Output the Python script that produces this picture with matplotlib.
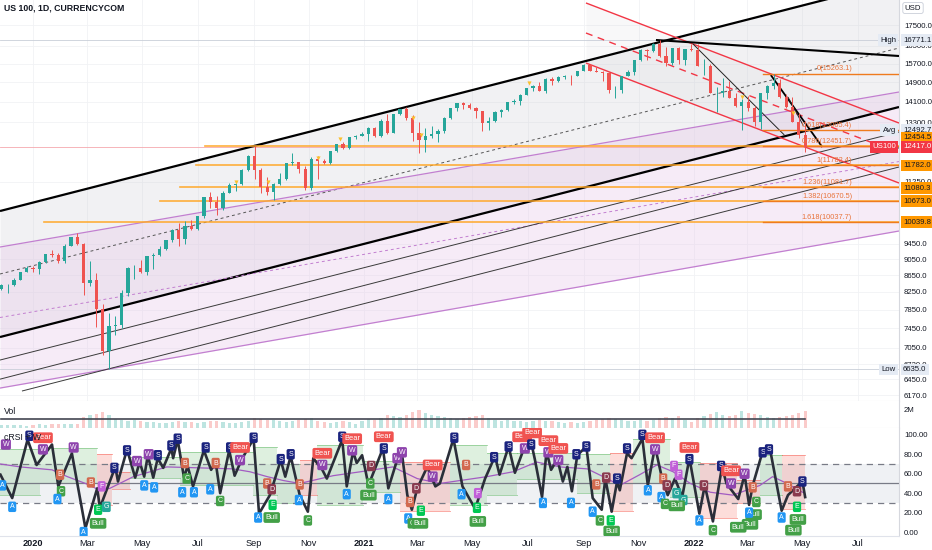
import numpy as np
import matplotlib.pyplot as plt
from matplotlib.ticker import NullLocator, NullFormatter

W, H = 932, 550
plt.rcParams['font.family'] = ['Liberation Sans', 'DejaVu Sans']

# ---- weekly bars, dated by the Friday of each week ----
week_end = np.arange(np.datetime64('2019-11-29'), np.datetime64('2022-05-07'), np.timedelta64(7, 'D'))
first_open = 8320
close = [8403, 8425, 8542, 8726, 8834,
         8793, 8975, 9174, 9148, 8991, 9401, 9623, 9446, 8461, 8530, 7875, 6994, 7502,
         7528, 8230, 8832, 8834, 8718, 9121, 9152, 9325, 9555, 9824, 9588, 9946, 9849,
         10208, 10767, 10643, 10461, 10905, 11139, 11186, 11627, 12111, 11622, 11087,
         10939, 11187, 11330, 11853, 11894, 11666, 11052, 12000, 11937, 11855, 12258,
         12528, 12376, 12756, 12804,
         12888, 13105, 12804, 13367, 12925, 13611, 13808, 13475, 12909, 12669, 12819,
         12879, 12977, 13480, 13845, 14041, 13951, 13860, 13720, 13296, 13338, 13687,
         13774, 14069, 14141, 14360, 14640, 14749, 14543, 15048, 14959, 15122, 15155,
         15152, 15374, 15653, 15374, 15334, 15306, 14566, 14579, 15146, 15335, 15850,
         16300, 16269, 16574, 16026, 15712, 16410, 15838, 16354, 16320,
         15591, 15612, 14438, 14441, 14516, 14254, 13935, 14103, 13838, 13300, 14430,
         14717, 14862, 14270, 13894, 13323, 12855, 12417]
high = [8440, 8440, 8590, 8740, 8870,
        8870, 8990, 9180, 9290, 9220, 9450, 9630, 9736, 9480, 9000, 8700, 7980, 7770,
        7700, 8300, 8850, 8900, 9030, 9130, 9200, 9400, 9560, 9850, 10030, 10080, 10100,
        10220, 10780, 10940, 10800, 10950, 11200, 11220, 11660, 12130, 12439, 11700,
        11400, 11200, 11520, 11880, 12200, 11900, 11780, 12050, 12100, 12000, 12270,
        12530, 12600, 12770, 12840,
        12950, 13120, 13140, 13420, 13630, 13620, 13830, 13880, 13600, 13300, 13100,
        13180, 13040, 13490, 13850, 14060, 14090, 14060, 13890, 13730, 13500, 13720,
        13800, 14080, 14220, 14400, 14650, 14780, 14900, 15060, 15110, 15140, 15200,
        15220, 15390, 15670, 15700, 15560, 15390, 15350, 14720, 15160, 15420, 15860,
        16360, 16370, 16620, 16771, 16460, 16420, 16440, 16370, 16580,
        16590, 15920, 15700, 14700, 15090, 14950, 14470, 14210, 14340, 13950, 14440,
        14800, 15263, 15040, 14400, 14300, 13650, 13360]
low = [8300, 8220, 8380, 8530, 8720,
       8730, 8680, 8940, 9100, 8960, 8960, 9380, 9420, 8190, 8390, 7470, 6900, 6635,
       7300, 7450, 8150, 8560, 8700, 8650, 8800, 9120, 9290, 9500, 9400, 9450, 9830,
       9830, 10150, 10440, 10260, 10400, 10900, 10960, 11150, 11600, 11350, 10910,
       10850, 10680, 11150, 11300, 11800, 11540, 10990, 11000, 11350, 11820, 11840,
       12230, 12330, 12350, 12690,
       12800, 12620, 12780, 12780, 12890, 12900, 13580, 13400, 12640, 12200, 12240,
       12740, 12600, 12920, 13420, 13740, 13810, 13830, 13470, 12990, 13010, 13300,
       13500, 13720, 13990, 13980, 14350, 14520, 14520, 14440, 14800, 14900, 15050,
       14800, 15140, 15360, 15370, 15310, 14930, 14450, 14250, 14450, 15140, 15220,
       15800, 15870, 16230, 16000, 15580, 15650, 15670, 15620, 16280,
       15580, 15220, 14430, 13710, 14300, 14240, 13880, 13020, 13720, 13160, 13040,
       14220, 14600, 14250, 13850, 13300, 12720, 12230]
vol_m = [0.3, 0.3, 0.3, 0.3, 0.2,
         0.3, 0.4, 0.3, 0.4, 0.5, 0.4, 0.4, 0.5, 1.2, 1.5, 1.6, 1.8, 1.4,
         1.0, 0.9, 0.8, 0.9, 0.8, 0.7, 0.7, 0.6, 0.6, 0.7, 0.8, 0.7, 0.7,
         0.6, 0.7, 0.8, 0.8, 0.7, 0.6, 0.6, 0.7, 0.8, 1.1, 1.0, 0.9, 0.9,
         0.8, 0.7, 0.8, 0.9, 1.0, 1.1, 0.8, 0.7, 0.6, 0.7, 0.8, 0.7, 0.5,
         0.8, 1.0, 0.9, 1.1, 1.4, 1.3, 1.2, 1.5, 1.8, 2.0, 1.7, 1.5, 1.3,
         1.2, 1.1, 1.0, 1.1, 1.2, 1.3, 1.4, 1.1, 0.9, 0.8, 0.9, 0.8, 0.8,
         0.7, 0.8, 0.9, 0.8, 0.8, 0.7, 0.6, 0.7, 0.6, 0.7, 0.8, 0.9, 1.0,
         1.1, 1.0, 0.9, 0.8, 0.8, 0.9, 0.8, 0.9, 1.1, 1.2, 1.1, 1.3, 0.9, 0.7,
         1.1, 1.3, 1.6, 1.8, 1.4, 1.3, 1.5, 1.9, 1.7, 1.6, 1.4, 1.2,
         1.1, 1.2, 1.3, 1.5, 1.7, 1.9]

# ---- drawings on the price pane: (days from 2020-01-01, price) ----
trend = {
    'chan_top':  ([-36.5, 957.8], [10363, 19821]),
    'chan_bot':  ([-36.5, 957.8], [7267, 13891]),
    'chan_mid':  ([-36.5, 957.8], [8679, 16402]),
    'purp_top':  ([-36.5, 957.8], [9364, 14490]),
    'purp_bot':  ([-36.5, 957.8], [6294, 9796]),
    'purp_mid':  ([-36.5, 957.8], [7678, 11913]),
    'fork_1':    ([-36.5, 957.8], [6811, 12948]),
    'fork_2':    ([-36.5, 957.8], [6454, 12382]),
    'fork_3':    ([-12.2, 957.8], [6242, 11731]),
    'red_top':   ([611.6, 957.8], [18620, 13278]),
    'red_mid':   ([611.6, 957.8], [17110, 12202]),
    'red_bot':   ([611.6, 957.8], [15724, 11214]),
    'high_line': ([689, 957.8], [16776, 16037]),
    'peak_fan':  ([730, 831], [16588, 12837]),
    'mar_fan':   ([816, 873], [15201, 12410]),
    'mar_fan2':  ([835, 852], [14287, 13183]),
}
fib_txt = ['0(15263.1)', '0.618(13005.4)', '0.786(12451.7)', '1(11782.4)',
           '1.236(11081.7)', '1.382(10670.5)', '1.618(10037.7)']
fib_price = [15263.1, 13005.4, 12451.7, 11782.4, 11081.7, 10670.5, 10037.7]
ray_price = [12451.7, 11782.4, 11081.7, 10670.5, 10037.7]
ray_start = [190, 180, 163, 140, 12]
star_day = [224, 260, 315, 340, 420, 429, 549, 784, 841]
star_price = [11245, 11245, 12032, 12693, 13466, 12837, 14862, 14287, 13658]

price_ticks = [17500, 16500, 15700, 14900, 14100, 13300, 11250, 9450, 9050, 8650,
               8250, 7850, 7450, 7050, 6730, 6450, 6170]
tag_txt = ['16771.1', '12492.7', '12454.5', '12417.0', '11782.0', '11080.3', '10673.0', '10039.8', '6635.0']
tag_y = [16776, 13010, 12735, 12417, 11782, 11057, 10660, 10040, 6635]
tag_kind = ['info', 'info', 'fib', 'last', 'fib', 'fib', 'fib', 'fib', 'info']
side_txt = ['High', 'Avg', 'US100', 'Low']
side_y = [16776, 13010, 12417, 6635]
side_kind = ['info', 'info', 'last', 'info']

# ---- cRSI pane ----
osc_day = [-36, -23, -6, 4, 21, 28, 43, 58, 71, 74, 91, 94, 104, 113, 118, 123, 127, 133, 138, 144,
           153, 155, 160, 167, 171, 177, 189, 197, 202, 207, 217, 223, 231, 244, 250, 262, 274, 279, 285, 295,
           304, 310, 320, 325, 342, 347, 354, 358, 364, 368, 371, 387, 393, 404, 408, 414, 419, 425, 436, 445,
           450, 465, 475, 489, 500, 511, 516, 526, 533, 543, 551, 555, 563, 568, 573, 580, 586, 591, 596, 602,
           612, 619, 629, 633, 640, 646, 649, 657, 662, 674, 680, 688, 696, 702, 710, 718, 726, 737, 743, 752,
           762, 767, 780, 787, 792, 796, 807, 815, 828, 835, 845, 851, 854]
osc_val = [59, 35, 95, 69, 90, 47, 81, 4, 45, 25, 67, 52, 85, 56, 72, 57, 79, 56, 76, 66,
           86, 76, 95, 56, 68, 47, 84, 64, 72, 40, 84, 58, 75, 96, 19, 38, 74, 57, 78, 38,
           21, 76, 64, 55, 95, 47, 83, 71, 79, 62, 48, 86, 45, 78, 81, 38, 23, 45, 67, 47,
           50, 96, 47, 24, 55, 78, 59, 88, 61, 86, 92, 75, 36, 83, 64, 75, 52, 67, 42, 79,
           88, 35, 23, 55, 21, 52, 43, 81, 76, 96, 48, 88, 54, 38, 55, 36, 76, 19, 48, 11,
           67, 50, 34, 59, 28, 48, 83, 86, 22, 38, 47, 52, 36]
sig_day = [-36, -14, 21, 38, 58, 74, 85, 111, 148, 185, 221, 240, 259, 277, 295, 332, 362, 398, 425,
           450, 502, 531, 557, 583, 613, 635, 649, 671, 690, 708, 727, 749, 774, 804, 818, 834, 851]
sig_val = [70, 67, 64, 57, 50, 43, 45, 57, 67, 66, 65, 62, 57, 53, 50, 58, 62, 67, 55,
           50, 57, 62, 72, 67, 65, 55, 48, 59, 69, 62, 50, 41, 38, 48, 57, 50, 41]
band_d0 = [-36, 8, 71, 87, 107, 163, 243, 270, 295, 314, 365, 406, 461, 502, 535, 602, 638, 664, 705, 738, 779, 804, 828]
band_d1 = [8, 71, 87, 107, 163, 243, 270, 295, 314, 365, 406, 461, 502, 535, 602, 638, 664, 705, 738, 779, 804, 828, 854]
band_top = [85, 86, 80, 62, 77, 82, 87, 70, 74, 90, 73, 72, 90, 81, 81, 80, 81, 96, 72, 71, 54, 79, 79]
band_bot = [38, 50, 28, 44, 56, 48, 38, 30, 38, 28, 41, 22, 28, 38, 55, 40, 22, 50, 36, 14, 30, 38, 24]
band_bull = [1, 1, 0, 0, 1, 1, 1, 1, 0, 1, 1, 0, 1, 1, 1, 1, 0, 1, 1, 0, 0, 1, 0]

mark_day = [-30, -34, -23, -4, 11, 11, 45, 30, 31, 27, 56, 64, 76, 72, 81, 72, 90, 104, 115, 128,
            138, 153, 160, 123, 134, 168, 170, 165, 178, 191, 202, 196, 207, 218, 229, 229, 244, 259, 264, 265,
            249, 264, 274, 285, 295, 294, 304,
            320, 320, 342, 353, 353, 347, 388, 388, 374, 373, 371, 393, 403, 408, 424, 417, 415, 419, 429, 428,
            442, 442, 466, 479, 474, 492, 491, 492, 510, 526, 541, 552, 544, 551, 570, 570, 581, 581, 564, 595,
            601, 612, 623, 634, 619, 627,
            639, 640, 646, 657, 674, 688, 688, 680, 697, 701, 709, 714, 695, 699, 712, 719, 712, 726, 726, 742,
            737, 752, 761, 772, 772, 787, 796, 800, 797, 793, 780, 792, 807, 814, 828, 835, 845, 845, 846, 841, 851]
mark_val = [90, 48, 26, 99, 97, 85, 87, 59, 42, 34, 0, 51, 47, 23, 26, 9, 66, 84, 73, 80,
            79, 89, 96, 48, 46, 71, 55, 41, 41, 87, 71, 44, 32, 87, 87, 74, 97, 50, 44, 28,
            15, 15, 75, 80, 49, 33, 12,
            81, 69, 98, 96, 84, 39, 98, 86, 68, 50, 38, 34, 76, 82, 45, 31, 14, 9, 22, 9,
            69, 57, 97, 69, 39, 40, 25, 11, 77, 88, 98, 102, 86, 90, 94, 82, 86, 74, 30, 30,
            80, 88, 49, 56, 21, 12,
            12, 1, 55, 86, 100, 97, 85, 43, 55, 48, 68, 59, 36, 29, 40, 33, 27, 87, 75, 48,
            12, 2, 68, 63, 50, 60, 46, 31, 18, 8, 5, 20, 82, 85, 15, 47, 42, 26, 13, 2, 52]
mark_txt = ['W', 'A', 'A', 'S', 'Bear', 'W', 'W', 'B', 'C', 'A', 'A', 'B', 'F', 'E', 'G', 'Bull', 'S', 'S', 'W', 'W',
            'S', 'S', 'S', 'A', 'A', 'B', 'C', 'A', 'A', 'S', 'B', 'A', 'C', 'S', 'Bear', 'W', 'S', 'B', 'D', 'E',
            'A', 'Bull', 'S', 'S', 'B', 'A', 'C',
            'Bear', 'W', 'S', 'Bear', 'W', 'A', 'Bear', 'S', 'D', 'C', 'Bull', 'A', 'W', 'W', 'D', 'B', 'A', 'C', 'E', 'Bull',
            'Bear', 'W', 'S', 'B', 'A', 'F', 'E', 'Bull', 'S', 'S', 'Bear', 'Bear', 'W', 'S', 'Bear', 'W', 'Bear', 'W', 'A', 'A',
            'S', 'S', 'B', 'D', 'A', 'C',
            'E', 'Bull', 'S', 'S', 'S', 'Bear', 'W', 'A', 'B', 'D', 'F', 'F', 'A', 'C', 'G', 'G', 'Bull', 'Bear', 'S', 'D',
            'A', 'C', 'S', 'Bear', 'W', 'W', 'B', 'C', 'Bull', 'Bull', 'Bull', 'A', 'S', 'S', 'A', 'B', 'D', 'E', 'Bull', 'Bull', 'S']
mark_color = {'A': '#2196f3', 'B': '#d2694f', 'C': '#43a047', 'D': '#8a3a4e', 'E': '#00c853',
              'F': '#c15fd8', 'G': '#26a69a', 'S': '#1a237e', 'W': '#8e44ad',
              'Bear': '#f05350', 'Bull': '#43a047'}

tick_days = [0, 60, 121, 182, 244, 305, 366, 425, 486, 547, 609, 670, 731, 790, 851, 912]
tick_text = ['2020', 'Mar', 'May', 'Jul', 'Sep', 'Nov', '2021', 'Mar', 'May', 'Jul', 'Sep', 'Nov',
             '2022', 'Mar', 'May', 'Jul']

XMIN, XMAX = -36.5, 957.8
TXT = '#131722'
GRID = '#f1f2f5'
AXFS = 5.6

fig = plt.figure(figsize=(W / 100, H / 100), dpi=100)


def pane(top, bottom):
    a = fig.add_axes([0, 1 - bottom / H, 899 / W, (bottom - top) / H])
    for s in ('top', 'left'):
        a.spines[s].set_visible(False)
    a.spines['right'].set_color('#d6d8de')
    a.spines['bottom'].set_color('#e0e3eb')
    a.spines['right'].set_linewidth(0.8)
    a.spines['bottom'].set_linewidth(0.8)
    a.yaxis.tick_right()
    a.tick_params(axis='y', length=0, pad=3.5, labelsize=AXFS, colors=TXT)
    a.tick_params(axis='x', length=0, labelbottom=False)
    a.set_xlim(XMIN, XMAX)
    a.set_xticks(tick_days)
    a.grid(True, color=GRID, lw=0.6)
    a.set_axisbelow(True)
    return a


ax = pane(0, 401)
axv = pane(401, 428)
axo = pane(428, 536)

# ---------------- price pane ----------------
ax.set_yscale('log')
ax.set_ylim(6069, 18777)
ax.yaxis.set_minor_locator(NullLocator())
ax.yaxis.set_minor_formatter(NullFormatter())
ax.set_yticks(price_ticks)
ax.set_yticklabels(['%.1f' % v for v in price_ticks])

xs, top_y = trend['chan_top']
ax.fill_between(xs, top_y, trend['chan_bot'][1], color='#c8cad0', alpha=0.25, lw=0, zorder=1)
ax.fill_between(xs, trend['purp_top'][1], trend['purp_bot'][1], color='#e6c8ea', alpha=0.35, lw=0, zorder=1)
ax.fill_between(trend['red_top'][0], trend['red_top'][1], trend['red_bot'][1], color='#d0d2d8', alpha=0.15, lw=0, zorder=1)

styles = {
    'chan_top': dict(color='black', lw=1.6),
    'chan_bot': dict(color='black', lw=1.6),
    'chan_mid': dict(color='#555555', lw=0.7, ls=(0, (3, 3))),
    'purp_top': dict(color='#c27fd0', lw=0.9),
    'purp_bot': dict(color='#c27fd0', lw=0.9),
    'purp_mid': dict(color='#c27fd0', lw=0.7, ls=(0, (3, 3))),
    'fork_1': dict(color='#3a3a3a', lw=0.7),
    'fork_2': dict(color='#3a3a3a', lw=0.7),
    'fork_3': dict(color='#3a3a3a', lw=0.7),
    'red_top': dict(color='#f23645', lw=1.0),
    'red_mid': dict(color='#f23645', lw=1.0, ls=(0, (5, 4))),
    'red_bot': dict(color='#f23645', lw=1.0),
    'high_line': dict(color='black', lw=1.5),
    'peak_fan': dict(color='#222222', lw=0.7),
    'mar_fan': dict(color='black', lw=1.3),
    'mar_fan2': dict(color='#222222', lw=0.7),
}
for name, (dx, py) in trend.items():
    ax.plot(dx, py, zorder=3, solid_capstyle='butt', **styles[name])

# reference levels
ax.axhline(16771.1, color='#c9ced8', lw=0.6, zorder=2)
ax.axhline(6635.0, color='#c9ced8', lw=0.6, zorder=2)
ax.axhline(12417.0, color='#f5a8ae', lw=0.6, zorder=2)

for p, d0 in zip(ray_price, ray_start):
    ax.plot([d0, XMAX], [p, p], color='#ffa726', lw=1.2, alpha=0.9, zorder=3)
for t, p in zip(fib_txt, fib_price):
    ax.plot([807, XMAX], [p, p], color='#ef7b1e', lw=1.0, zorder=3)
    ax.text(906, p * 1.003, t, fontsize=5.3, color='#e8743b', ha='right', va='bottom', zorder=6)

# candles
o = np.r_[first_open, close[:-1]]
c = np.array(close, dtype=float)
bar_day = (week_end - np.datetime64('2020-01-01')).astype(int) - 2
col = np.where(c >= o, '#26a69a', '#ef5350')
ax.vlines(bar_day, low, high, colors=col, lw=0.7, zorder=4)
ax.bar(bar_day, np.maximum(np.abs(c - o), 1), bottom=np.minimum(o, c), width=3.6,
       color=col, lw=0, zorder=5)
ax.scatter(star_day, star_price, marker='v', s=9, color='#fbc02d', zorder=6, lw=0)

# price scale tags
kind_fc = {'info': '#e5ebf4', 'fib': '#ff9800', 'last': '#f23645'}
kind_tc = {'info': TXT, 'fib': TXT, 'last': 'white'}
yt = ax.get_yaxis_transform()
for t, y, k in zip(tag_txt, tag_y, tag_kind):
    ax.text(1 + 4 / 899, y, t, transform=yt, fontsize=AXFS, ha='left', va='center',
            color=kind_tc[k], clip_on=False, zorder=10,
            bbox=dict(boxstyle='square,pad=0.3', fc=kind_fc[k], ec='none'))
for t, y, k in zip(side_txt, side_y, side_kind):
    ax.text(1 - 3 / 899, y, t, transform=yt, fontsize=AXFS, ha='right', va='center',
            color=kind_tc[k], clip_on=False, zorder=10,
            bbox=dict(boxstyle='square,pad=0.3', fc=kind_fc[k], ec='none'))

fig.text(4 / W, 1 - 8 / H, 'US 100, 1D, CURRENCYCOM', fontsize=6.3, fontweight='bold',
         color=TXT, va='center', ha='left')
fig.text(913 / W, 1 - 8 / H, 'USD', fontsize=5.6, color=TXT, va='center', ha='center',
         bbox=dict(boxstyle='round,pad=0.25', fc='white', ec='#c9ced8', lw=0.6))

# ---------------- volume pane ----------------
v = np.array(vol_m)
axv.set_ylim(0, 3.0)
axv.set_yticks([2.0])
axv.set_yticklabels(['2M'])
axv.grid(False)
axv.bar(bar_day, v, width=3.6, color=col, alpha=0.3, lw=0, zorder=2)
axv.plot([bar_day[0], bar_day[-1]], [v.mean(), v.mean()], color='#434651', lw=1.2, zorder=3)
fig.text(4 / W, 1 - 412 / H, 'Vol', fontsize=6.3, color=TXT, va='center', ha='left')

# ---------------- cRSI pane ----------------
axo.set_ylim(-4, 107)
axo.set_yticks([0, 20, 40, 60, 80, 100])
axo.set_yticklabels(['%.2f' % t for t in [0, 20, 40, 60, 80, 100]])
axo.grid(False)
axo.axhspan(30, 70, color='#eceef2', alpha=0.8, lw=0, zorder=0)
for d0, d1, tp, bt, bull in zip(band_d0, band_d1, band_top, band_bot, band_bull):
    fc = '#4caf50' if bull else '#f44336'
    axo.fill_between([d0, d1], [bt, bt], [tp, tp], color=fc, alpha=0.18, lw=0, zorder=1)
    axo.plot([d0, d1], [tp, tp], color=fc, alpha=0.45, lw=0.7, zorder=1)
    axo.plot([d0, d1], [bt, bt], color=fc, alpha=0.45, lw=0.7, zorder=1)
axo.axhline(70, color='#787b86', lw=0.9, ls=(0, (5, 4)), zorder=2)
axo.axhline(30, color='#787b86', lw=0.9, ls=(0, (5, 4)), zorder=2)
axo.axhline(50, color='#787b86', lw=0.9, zorder=2)
axo.plot(sig_day, sig_val, color='#a25bc2', lw=0.9, zorder=3)
axo.plot(osc_day, osc_val, color='#2a2e39', lw=1.9, zorder=4, solid_joinstyle='round')
for d, val, t in zip(mark_day, mark_val, mark_txt):
    axo.text(d, val, t, fontsize=5.0 if len(t) == 1 else 5.4, color='white', ha='center', va='center',
             zorder=8, clip_on=True,
             bbox=dict(boxstyle='round,pad=0.25', fc=mark_color[t], ec='none'))
fig.text(4 / W, 1 - 437 / H, 'cRSI + W', fontsize=6.3, color=TXT, va='center', ha='left')

axo.tick_params(axis='x', labelbottom=True, pad=2, labelsize=6.6, colors=TXT)
axo.set_xticklabels(tick_text)
for lab in axo.get_xticklabels():
    if lab.get_text().isdigit():
        lab.set_fontweight('bold')

fig.savefig('out.png', dpi=100)
